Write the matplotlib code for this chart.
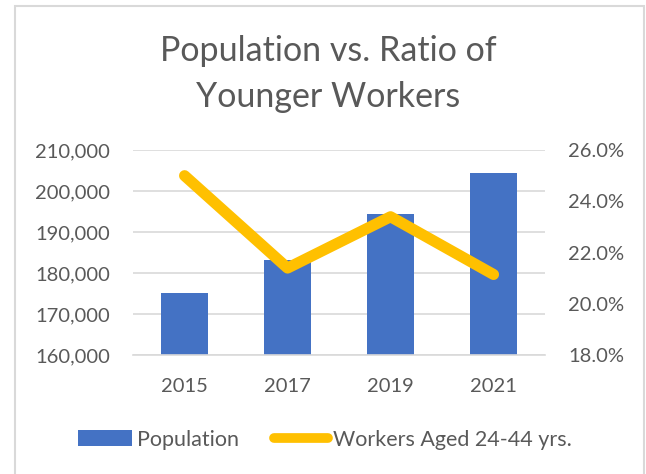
import matplotlib.pyplot as plt
import matplotlib.ticker as mticker
from matplotlib.lines import Line2D
from matplotlib.patches import Patch, Rectangle

years = ["2015", "2017", "2019", "2021"]
population = [175200, 183300, 194400, 204400]
young_ratio = [25.0, 21.4, 23.4, 21.15]
title_lines = ["Population vs. Ratio of", "Younger Workers"]

TEXT = "#595959"
BLUE = "#4472C4"
GOLD = "#FFC000"
GRID = "#D9D9D9"

plt.rcParams["font.family"] = ["Lato", "DejaVu Sans"]

fig = plt.figure(figsize=(6.46, 4.74), dpi=100)
ax = fig.add_axes([0.206, 0.2504, 0.6377, 0.4331])

x = range(len(years))
ax.bar(x, population, width=0.45, color=BLUE, zorder=2)
ax.set_xlim(-0.5, 3.5)
ax.set_ylim(160000, 210000)
ax.yaxis.set_major_locator(mticker.MultipleLocator(10000))
ax.yaxis.set_major_formatter(mticker.StrMethodFormatter("{x:,.0f}"))
ax.set_xticks(list(x))
ax.set_xticklabels(years)
ax.grid(axis="y", color=GRID, linewidth=1.2, zorder=0)
ax.set_axisbelow(True)
for s in ax.spines.values():
    s.set_visible(False)
ax.spines["bottom"].set_visible(True)
ax.spines["bottom"].set_color(GRID)
ax.spines["bottom"].set_linewidth(1.2)
ax.tick_params(axis="both", length=0, labelsize=14.5, colors=TEXT)
ax.tick_params(axis="y", pad=16.5)
ax.tick_params(axis="x", pad=16)

ax2 = ax.twinx()
ax2.plot(x, young_ratio, color=GOLD, linewidth=8, solid_capstyle="round",
         solid_joinstyle="round", zorder=3)
ax2.set_ylim(18, 26)
ax2.yaxis.set_major_locator(mticker.MultipleLocator(2))
ax2.yaxis.set_major_formatter(mticker.StrMethodFormatter("{x:.1f}%"))
for s in ax2.spines.values():
    s.set_visible(False)
ax2.tick_params(axis="y", length=0, labelsize=14.5, colors=TEXT, pad=16.5)

# title drawn as two lines so the spacing can follow the original
for line, ty in zip(title_lines, [0.893, 0.795]):
    fig.text(0.508, ty, line, ha="center", va="center", fontsize=24.5,
             color=TEXT)

handles = [Patch(facecolor=BLUE, edgecolor="none"),
           Line2D([0], [0], color=GOLD, linewidth=7, solid_capstyle="round")]
fig.legend(handles, ["Population", "Workers Aged 24-44 yrs."],
           loc="center", bbox_to_anchor=(0.503, 0.072), ncol=2, frameon=False,
           fontsize=15.5, labelcolor=TEXT, handlelength=2.5, handleheight=0.75,
           handletextpad=0.25, columnspacing=1.6)

fig.patches.append(Rectangle((15 / 646, -0.05), 629 / 646, 1.05 - 6 / 474,
                             transform=fig.transFigure, fill=False,
                             edgecolor=GRID, linewidth=1.5))

fig.savefig("out.png", dpi=100)
